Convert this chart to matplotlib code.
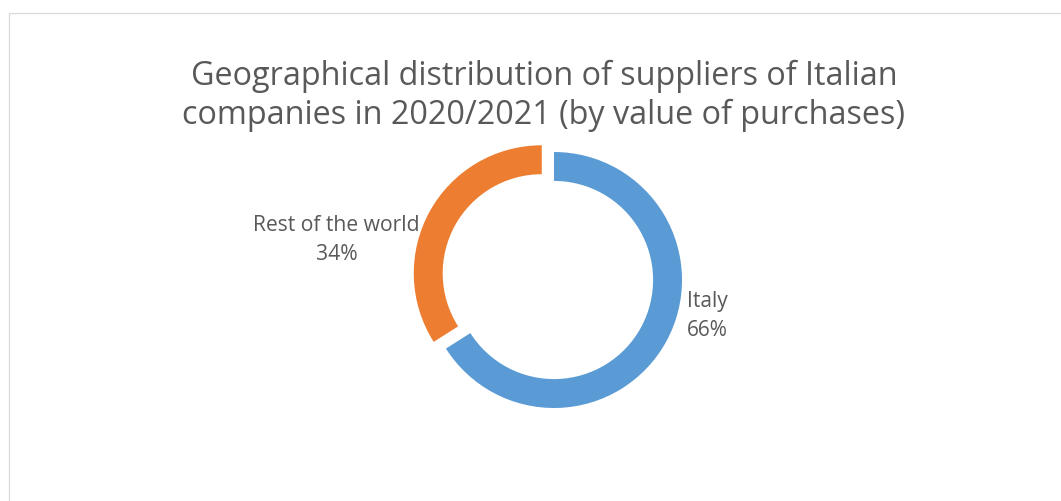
import matplotlib
matplotlib.use("Agg")
import matplotlib.pyplot as plt
from matplotlib.patches import Rectangle

# Data
categories = ["Italy", "Rest of the world"]
values = [66, 34]
colors = ["#5B9BD5", "#ED7D31"]
title = "Geographical distribution of suppliers of Italian\ncompanies in 2020/2021 (by value of purchases)"

W, H, DPI = 1061, 501, 100
fig = plt.figure(figsize=(W / DPI, H / DPI), dpi=DPI)
fig.patch.set_facecolor("white")

plt.rcParams["font.family"] = ["Open Sans", "DejaVu Sans"]
text_color = "#595959"

# Chart frame (light grey border, extending past right/bottom edges)
fig.patches.append(Rectangle((8.5 / W, -0.1), 1.2, 1 - 12.5 / H + 0.1,
                             transform=fig.transFigure, fill=False,
                             edgecolor="#D9D9D9", linewidth=0.9))

# Donut axes: center at (554, 280) px, outer radius 126 px
cx, cy, R = 554, 280, 126
half = 160
ax = fig.add_axes([(cx - half) / W, (H - cy - half) / H, 2 * half / W, 2 * half / H])
lim = half / R
ax.set_xlim(-lim, lim)
ax.set_ylim(-lim, lim)
ax.set_aspect("equal")
ax.axis("off")

ax.pie(values, colors=colors, startangle=90, counterclock=False,
       explode=[0, 0.109], radius=1.0,
       wedgeprops=dict(width=0.226, edgecolor="none"))

total = sum(values)
pcts = [round(v / total * 100) for v in values]

ax.text(1.04, -0.28, f"{categories[0]}\n{pcts[0]}%", ha="left", va="center",
        fontsize=15, color=text_color, linespacing=1.5)
ax.text(-1.70, 0.316, f"{categories[1]}\n{pcts[1]}%", ha="center", va="center",
        fontsize=15.2, color=text_color, linespacing=1.5)

fig.text(544 / W, 1 - 96 / H, title, ha="center", va="center",
         fontsize=23.3, color=text_color, linespacing=1.22)

fig.savefig("out.png", dpi=DPI)
